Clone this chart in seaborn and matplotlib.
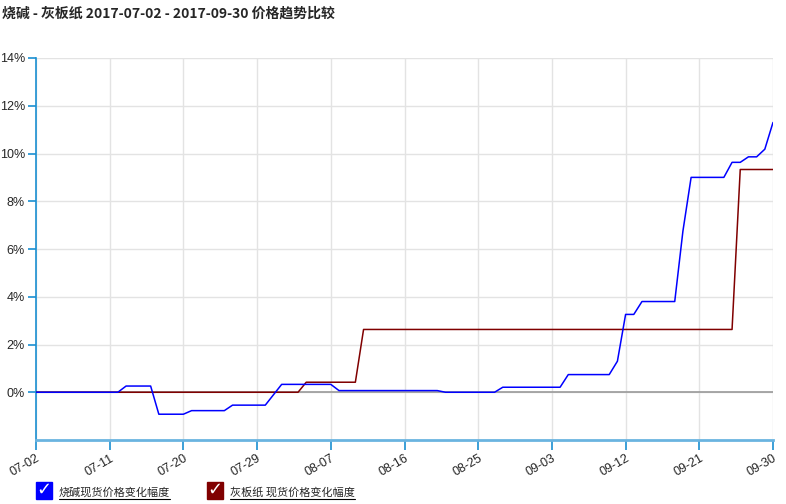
import matplotlib
matplotlib.use('Agg')
import matplotlib.pyplot as plt
import matplotlib.dates as mdates
from matplotlib.patches import Rectangle
from matplotlib.lines import Line2D
import seaborn as sns
import pandas as pd

sns.set_style("white")
plt.rcParams['font.family'] = ['Liberation Sans', 'Noto Sans CJK SC', 'DejaVu Sans']

title = "烧碱 - 灰板纸 2017-07-02 - 2017-09-30 价格趋势比较"
label_a = "烧碱现货价格变化幅度"
label_b = "灰板纸 现货价格变化幅度"

# breakpoints (percent change)
dates_a = ["2017-07-02", "2017-07-12", "2017-07-13", "2017-07-16", "2017-07-17",
           "2017-07-20", "2017-07-21", "2017-07-25", "2017-07-26", "2017-07-30",
           "2017-08-01", "2017-08-07", "2017-08-08", "2017-08-20", "2017-08-21",
           "2017-08-27", "2017-08-28", "2017-09-04", "2017-09-05", "2017-09-10",
           "2017-09-11", "2017-09-12", "2017-09-13", "2017-09-14", "2017-09-18",
           "2017-09-19", "2017-09-20", "2017-09-24", "2017-09-25", "2017-09-26",
           "2017-09-27", "2017-09-28", "2017-09-29", "2017-09-30"]
values_a = [0.0, 0.0, 0.26, 0.26, -0.92,
            -0.92, -0.77, -0.77, -0.54, -0.54,
            0.33, 0.33, 0.07, 0.07, 0.0,
            0.0, 0.21, 0.21, 0.74, 0.74,
            1.30, 3.26, 3.26, 3.80, 3.80,
            6.75, 9.0, 9.0, 9.63, 9.63,
            9.86, 9.86, 10.18, 11.30]

dates_b = ["2017-07-02", "2017-08-03", "2017-08-04", "2017-08-10", "2017-08-11",
           "2017-09-25", "2017-09-26", "2017-09-30"]
values_b = [0.0, 0.0, 0.42, 0.42, 2.63,
            2.63, 9.33, 9.33]

x_ticks = ["2017-07-02", "2017-07-11", "2017-07-20", "2017-07-29", "2017-08-07",
           "2017-08-16", "2017-08-25", "2017-09-03", "2017-09-12", "2017-09-21",
           "2017-09-30"]
y_ticks = [0, 2, 4, 6, 8, 10, 12, 14]

df_a = pd.DataFrame({"date": pd.to_datetime(dates_a), "value": values_a})
df_b = pd.DataFrame({"date": pd.to_datetime(dates_b), "value": values_b})

blue = "#0000ff"
red = "#800000"
axis_blue = "#1a8fd1"

fig = plt.figure(figsize=(7.86, 5.04), dpi=100)
ax = fig.add_axes([36 / 786, 1 - 440 / 504, (773 - 36) / 786, (440 - 58) / 504])

ax.axhline(0, color="#999999", lw=1.2, zorder=1)
sns.lineplot(data=df_b, x="date", y="value", color=red, lw=1.1, ax=ax, zorder=3)
sns.lineplot(data=df_a, x="date", y="value", color=blue, lw=1.1, ax=ax, zorder=4)

ax.set_xlim(pd.Timestamp("2017-07-02"), pd.Timestamp("2017-09-30"))
ax.set_ylim(-2, 14)
ax.set_xticks(pd.to_datetime(x_ticks))
ax.xaxis.set_major_formatter(mdates.DateFormatter("%m-%d"))
ax.set_yticks(y_ticks)
ax.set_yticklabels([f"{v}%" for v in y_ticks])
ax.set_xlabel("")
ax.set_ylabel("")

ax.grid(True, color="#e3e3e3", lw=1)
ax.set_axisbelow(True)
for s in ["top", "right"]:
    ax.spines[s].set_visible(False)
ax.spines["left"].set_color(axis_blue)
ax.spines["left"].set_linewidth(1.2)
ax.spines["bottom"].set_color("#6ab4e0")
ax.spines["bottom"].set_linewidth(2)
ax.tick_params(axis="y", length=6, color=axis_blue, width=1.2, labelsize=9, pad=2, left=True)
ax.tick_params(axis="x", length=7, color=axis_blue, width=1.2, labelsize=9, pad=2, bottom=True)
for lbl in ax.get_xticklabels():
    lbl.set_rotation(30)
    lbl.set_ha("right")
    lbl.set_rotation_mode("anchor")

fig.text(2 / 786, 1 - 14 / 504, title, fontsize=10, fontweight="bold", va="center",
         family=["Noto Sans CJK SC", "DejaVu Sans"])

# legend with check boxes
for x0, col, lab in [(36, blue, label_a), (207, red, label_b)]:
    fig.patches.append(Rectangle((x0 / 786, 1 - 499 / 504), 16 / 786, 17 / 504,
                                 transform=fig.transFigure, facecolor=col, edgecolor=col))
    fig.text((x0 + 8) / 786, 1 - 490 / 504, "✓", color="white", fontsize=13,
             fontweight="bold", ha="center", va="center", family=["DejaVu Sans"])
    t = fig.text((x0 + 23) / 786, 1 - 492 / 504, lab, fontsize=8, va="center",
                 family=["Noto Sans CJK SC", "DejaVu Sans"])
    fig.canvas.draw()
    bb = t.get_window_extent()
    fig.add_artist(Line2D([bb.x0 / 786, bb.x1 / 786], [1 - 499 / 504, 1 - 499 / 504],
                          transform=fig.transFigure, color="black", lw=0.8))

fig.savefig("out.png", dpi=100)
